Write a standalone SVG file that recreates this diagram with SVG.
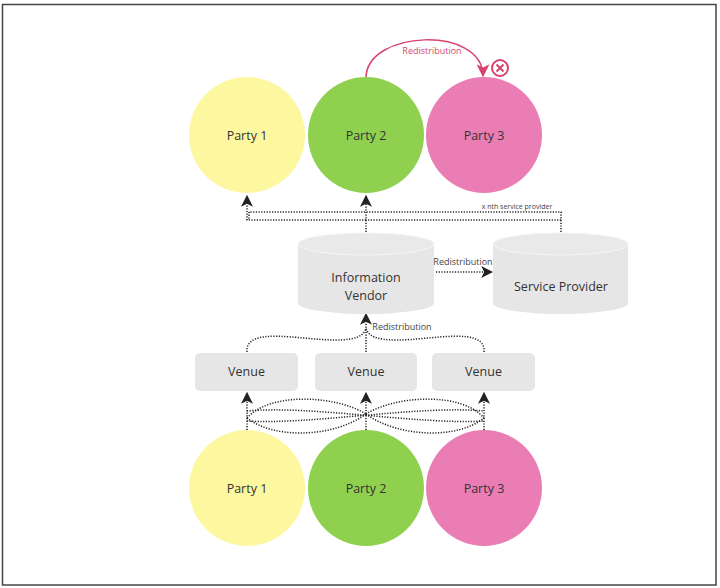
<svg xmlns="http://www.w3.org/2000/svg" width="720" height="588" viewBox="0 0 720 588">
<defs>
<marker id="ah" viewBox="0 0 10 10" refX="9" refY="5" markerWidth="12" markerHeight="12" markerUnits="userSpaceOnUse" orient="auto">
<path d="M0,0 L10,5 L0,10 L2.5,5 z" fill="#222"/>
</marker>
<marker id="ahp" viewBox="0 0 10 10" refX="9" refY="5" markerWidth="13" markerHeight="13" markerUnits="userSpaceOnUse" orient="auto">
<path d="M0,0 L10,5 L0,10 L2.5,5 z" fill="#d9446e"/>
</marker>
</defs>
<style>
text{font-family:"Open Sans","Liberation Sans",sans-serif;fill:#333;text-anchor:middle}
.lbl{font-size:12.5px}
.sm{font-size:9px;fill:#444}
.xs{font-size:7px;fill:#444}
.dot{fill:none;stroke:#222;stroke-width:1.5;stroke-dasharray:1.2 1.5}
.dota{fill:none;stroke:#222;stroke-width:1.5;stroke-dasharray:1.2 1.5;marker-end:url(#ah)}
.yel{fill:#fdf79f}
.grn{fill:#8fd14f}
.pnk{fill:#ea7db4}
.box{fill:#e6e6e6}
</style>
<rect x="2.5" y="4.5" width="713.5" height="580.5" fill="#fff" stroke="#444" stroke-width="1.5"/>

<g id="connectors">
<path class="dota" d="M366,232 V196"/>
<path class="dota" d="M366,220 H247 V196"/>
<path class="dot" d="M561,232 V212 H249 V220"/>
<path class="dot" d="M561,220 H366"/>
<path class="dota" d="M436,272 H492"/>
<path class="dota" d="M366,352 V314"/>
<path class="dot" d="M247,352 C245,326 300,340 335,340 C356,340 364,336 366,328"/>
<path class="dot" d="M484,352 C486,326 432,340 397,340 C376,340 368,336 366,328"/>
<path class="dota" d="M247,430 V393"/>
<path class="dota" d="M366,430 V393"/>
<path class="dota" d="M484,430 V393"/>
<path class="dot" d="M247,418 C270,392 335,395 366,414"/>
<path class="dot" d="M247,418 C275,440 335,437 366,414"/>
<path class="dot" d="M366,414 C397,395 462,392 484,418"/>
<path class="dot" d="M366,414 C397,437 457,440 484,418"/>
<path class="dot" d="M247,411 C310,405 420,425 484,421"/>
<path class="dot" d="M247,421 C310,425 420,405 484,411"/>
<path fill="none" stroke="#d9446e" stroke-width="1.5" d="M366,78 C366,30 483,25 483,76" marker-end="url(#ahp)"/>
</g>

<g id="top-party1"><circle class="yel" cx="247" cy="135" r="58"/><text class="lbl" x="247" y="140">Party 1</text></g>
<g id="top-party2"><circle class="grn" cx="366" cy="135" r="58"/><text class="lbl" x="366" y="140">Party 2</text></g>
<g id="top-party3"><circle class="pnk" cx="484" cy="135" r="58"/><text class="lbl" x="484" y="140">Party 3</text></g>

<g id="redistribution-label"><text x="432" y="54" style="font-size:9px;fill:#d9446e">Redistribution</text></g>
<g id="blocked">
<circle cx="500" cy="68" r="8" fill="#fff" stroke="#d9446e" stroke-width="2"/>
<path d="M496.5,64.5 L503.5,71.5 M503.5,64.5 L496.5,71.5" stroke="#d9446e" stroke-width="2"/>
</g>

<g id="nth-label"><text class="xs" x="517" y="209">x nth service provider</text></g>

<g id="information-vendor">
<path class="box" d="M298,244 A68,11 0 0 1 434,244 V303 A68,11 0 0 1 298,303 Z"/>
<ellipse cx="366" cy="244" rx="68" ry="11" fill="#e9e9e9" stroke="#f6f6f6" stroke-width="1"/>
<text class="lbl" x="366" y="282">Information</text>
<text class="lbl" x="366" y="300">Vendor</text>
</g>
<g id="service-provider">
<path class="box" d="M493,244 A67.5,11 0 0 1 628,244 V303 A67.5,11 0 0 1 493,303 Z"/>
<ellipse cx="560.5" cy="244" rx="67.5" ry="11" fill="#e9e9e9" stroke="#f6f6f6" stroke-width="1"/>
<text class="lbl" x="561" y="291">Service Provider</text>
</g>
<g id="redistribution-label-2"><text class="sm" x="463" y="265">Redistribution</text></g>
<g id="redistribution-label-3"><text class="sm" x="402" y="330">Redistribution</text></g>

<g id="venue1"><rect class="box" x="195" y="353" width="103" height="38" rx="5"/><text class="lbl" x="246.5" y="376">Venue</text></g>
<g id="venue2"><rect class="box" x="315" y="353" width="102" height="38" rx="5"/><text class="lbl" x="366" y="376">Venue</text></g>
<g id="venue3"><rect class="box" x="432" y="353" width="103" height="38" rx="5"/><text class="lbl" x="483.5" y="376">Venue</text></g>

<g id="bottom-party1"><circle class="yel" cx="247" cy="488" r="58"/><text class="lbl" x="247" y="493">Party 1</text></g>
<g id="bottom-party2"><circle class="grn" cx="366" cy="488" r="58"/><text class="lbl" x="366" y="493">Party 2</text></g>
<g id="bottom-party3"><circle class="pnk" cx="484" cy="488" r="58"/><text class="lbl" x="484" y="493">Party 3</text></g>
</svg>
